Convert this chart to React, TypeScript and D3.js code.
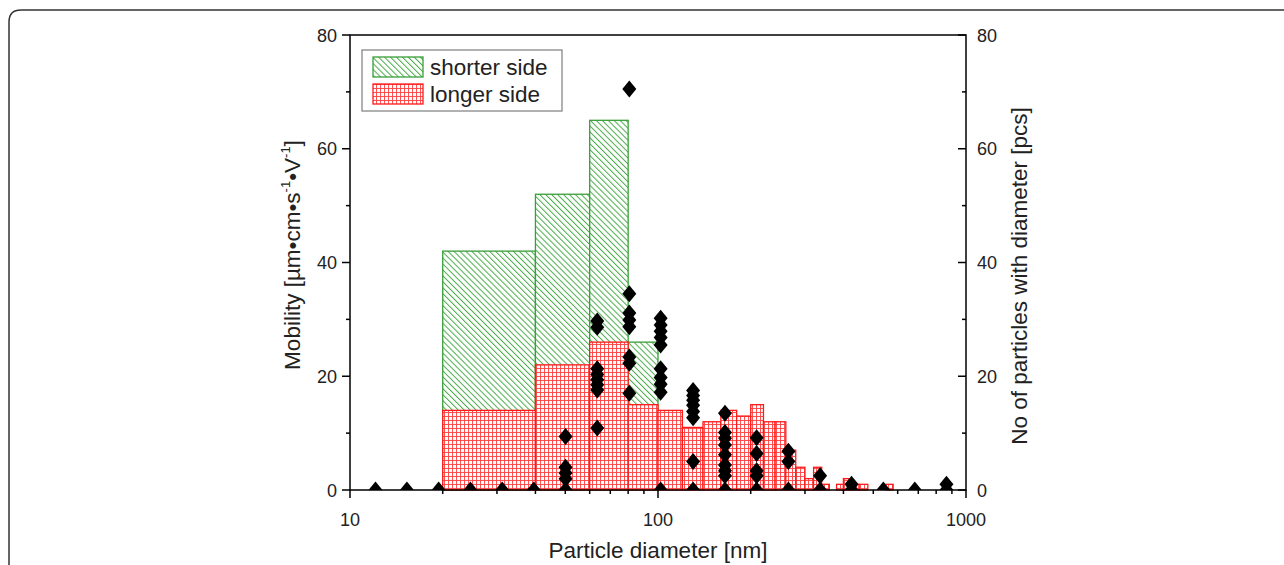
import * as d3 from 'd3';

// shorter side bins (nm) and mobility
const shortLo = [20, 40, 60, 80];
const shortHi = [40, 60, 80, 100];
const shortVal = [42, 52, 65, 26];

// longer side bins (nm) and mobility
const longLo = [20, 40, 60, 80, 100, 120, 140, 160, 180, 200, 220, 240, 260, 280, 300, 320, 340, 380, 400, 420, 450, 550];
const longHi = [40, 60, 80, 100, 120, 140, 160, 180, 200, 220, 240, 260, 280, 300, 320, 340, 360, 400, 420, 450, 480, 580];
const longVal = [14, 22, 26, 15, 14, 11, 12, 14, 13, 15, 12, 12, 7, 4, 2, 4, 1, 1, 2, 1, 1, 1];

// particle counts per diameter column
const countDiam = [12.1, 15.3, 19.4, 24.6, 31.2, 39.5, 50.1, 63.5, 80.7, 102, 130, 165, 209, 265, 336, 425, 539, 682, 864];
const countVals = [
  [0], [0], [0], [0], [0], [0],
  [9.4, 4.0, 3.0, 2.0, 0],
  [29.7, 28.6, 21.3, 20.3, 19.4, 18.5, 17.6, 10.9],
  [70.5, 34.5, 31.1, 29.9, 28.7, 23.4, 22.3, 17.0],
  [30.2, 29.0, 27.9, 26.8, 25.5, 21.3, 19.8, 18.6, 17.2, 0],
  [17.5, 16.6, 15.8, 14.9, 13.8, 12.7, 5.0, 0],
  [13.5, 10.1, 9.1, 7.9, 6.2, 4.4, 3.4, 2.5, 0],
  [9.2, 6.4, 3.4, 2.5, 0],
  [6.8, 5.0, 0],
  [2.5, 0],
  [1.0, 0],
  [0],
  [0],
  [1.0, 0],
];

const yTicks = [0, 20, 40, 60, 80];
const yMinor = [10, 30, 50, 70];
const xTicks = [10, 100, 1000];

const FONT = 'Liberation Sans, Arial, sans-serif';

const App = () => {
  const W = 1284;
  const H = 565;
  const left = 350, right = 966, top = 35, bottom = 490;

  const x = d3.scaleLog().domain([10, 1000]).range([left, right]);
  const yL = d3.scaleLinear().domain([0, 80]).range([bottom, top]);
  const yR = d3.scaleLinear().domain([0, 80]).range([bottom, top]);

  const xMinor: number[] = [];
  [10, 100].forEach((d) => {
    for (let k = 2; k <= 9; k++) xMinor.push(d * k);
  });

  const points: { d: number; v: number }[] = [];
  countDiam.forEach((d, i) => countVals[i].forEach((v) => points.push({ d, v })));

  const diamond = (cx: number, cy: number) =>
    `M${cx},${cy - 8.5}L${cx + 7},${cy}L${cx},${cy + 8.5}L${cx - 7},${cy}Z`;

  const green = '#3a9e3a';
  const red = '#ff1a1a';

  return (
    <svg width={W} height={H} style={{ position: 'absolute', left: 0, top: 0 }} fontFamily={FONT}>
      <defs>
        <pattern id="hatchG" patternUnits="userSpaceOnUse" width="4.2" height="4.2" patternTransform="rotate(-45)">
          <rect width="4.2" height="4.2" fill="#fff" />
          <line x1="0.5" y1="0" x2="0.5" y2="4.2" stroke="#4aaa4a" strokeWidth="1" />
        </pattern>
        <pattern id="gridR" patternUnits="userSpaceOnUse" width="4" height="4">
          <rect width="4" height="4" fill="#fff" />
          <line x1="0.5" y1="0" x2="0.5" y2="4" stroke="#ff4040" strokeWidth="0.9" />
          <line x1="0" y1="0.5" x2="4" y2="0.5" stroke="#ff4040" strokeWidth="0.9" />
        </pattern>
        <clipPath id="plotClip">
          <rect x={left} y={top} width={right - left} height={bottom - top} />
        </clipPath>
      </defs>

      {/* outer frame */}
      <path d="M9,565 L9,22 Q9,10 21,10 L1284,10" fill="none" stroke="#333" strokeWidth="1.5" />

      {/* shorter side */}
      {shortVal.map((v, i) => (
        <rect key={'s' + i} x={x(shortLo[i])} y={yL(v)} width={x(shortHi[i]) - x(shortLo[i])}
          height={yL(0) - yL(v)} fill="url(#hatchG)" stroke={green} strokeWidth="1.3" />
      ))}

      {/* longer side */}
      {longVal.map((v, i) => (
        <rect key={'l' + i} x={x(longLo[i])} y={yL(v)} width={x(longHi[i]) - x(longLo[i])}
          height={yL(0) - yL(v)} fill="url(#gridR)" stroke={red} strokeWidth="1.3" />
      ))}

      {/* particle counts */}
      <g clipPath="url(#plotClip)">
        {points.map((p, i) => (
          <path key={'p' + i} d={diamond(x(p.d), yR(p.v))} fill="#000" />
        ))}
      </g>

      {/* axes frame */}
      <rect x={left} y={top} width={right - left} height={bottom - top} fill="none" stroke="#000" strokeWidth="1.5" />

      {/* left axis */}
      {yTicks.map((t) => (
        <g key={'yl' + t}>
          <line x1={left - 8} x2={left} y1={yL(t)} y2={yL(t)} stroke="#000" strokeWidth="1.5" />
          <text x={left - 13} y={yL(t) + 6.5} textAnchor="end" fontSize="18" fill="#222">{t}</text>
        </g>
      ))}
      {yMinor.map((t) => (
        <line key={'ylm' + t} x1={left - 4} x2={left} y1={yL(t)} y2={yL(t)} stroke="#000" strokeWidth="1.5" />
      ))}

      {/* right axis */}
      {yTicks.map((t) => (
        <g key={'yr' + t}>
          <line x1={right - 8} x2={right} y1={yR(t)} y2={yR(t)} stroke="#000" strokeWidth="1.5" />
          <text x={right + 11} y={yR(t) + 6.5} textAnchor="start" fontSize="18" fill="#222">{t}</text>
        </g>
      ))}
      {yMinor.map((t) => (
        <line key={'yrm' + t} x1={right - 4} x2={right} y1={yR(t)} y2={yR(t)} stroke="#000" strokeWidth="1.5" />
      ))}

      {/* bottom axis */}
      {xTicks.map((t) => (
        <g key={'x' + t}>
          <line x1={x(t)} x2={x(t)} y1={bottom} y2={bottom + 8} stroke="#000" strokeWidth="1.5" />
          <text x={x(t)} y={bottom + 36} textAnchor="middle" fontSize="18" fill="#222">{t}</text>
        </g>
      ))}
      {xMinor.map((t) => (
        <line key={'xm' + t} x1={x(t)} x2={x(t)} y1={bottom} y2={bottom + 4} stroke="#000" strokeWidth="1.5" />
      ))}

      {/* axis titles */}
      <text x={658} y={558} textAnchor="middle" fontSize="22.5" fill="#222">Particle diameter [nm]</text>
      <text transform="translate(300,255) rotate(-90)" textAnchor="middle" fontSize="22.5" fill="#222">
        Mobility [µm•cm•s<tspan fontSize="13" dy="-10">-1</tspan><tspan dy="10">•V</tspan>
        <tspan fontSize="13" dy="-10">-1</tspan><tspan dy="10">]</tspan>
      </text>
      <text transform="translate(1027,276) rotate(-90)" textAnchor="middle" fontSize="22.5" fill="#222">
        No of particles with diameter [pcs]
      </text>

      {/* legend */}
      <rect x={362} y={50} width={200} height={61} fill="#fff" stroke="#888" strokeWidth="1.3" />
      <rect x={373} y={57} width={50} height={20} fill="url(#hatchG)" stroke={green} strokeWidth="1.3" />
      <rect x={373} y={84} width={50} height={20} fill="url(#gridR)" stroke={red} strokeWidth="1.3" />
      <text x={430} y={75} fontSize="22.5" fill="#222">shorter side</text>
      <text x={430} y={102} fontSize="22.5" fill="#222">longer side</text>
    </svg>
  );
};

export default App;
